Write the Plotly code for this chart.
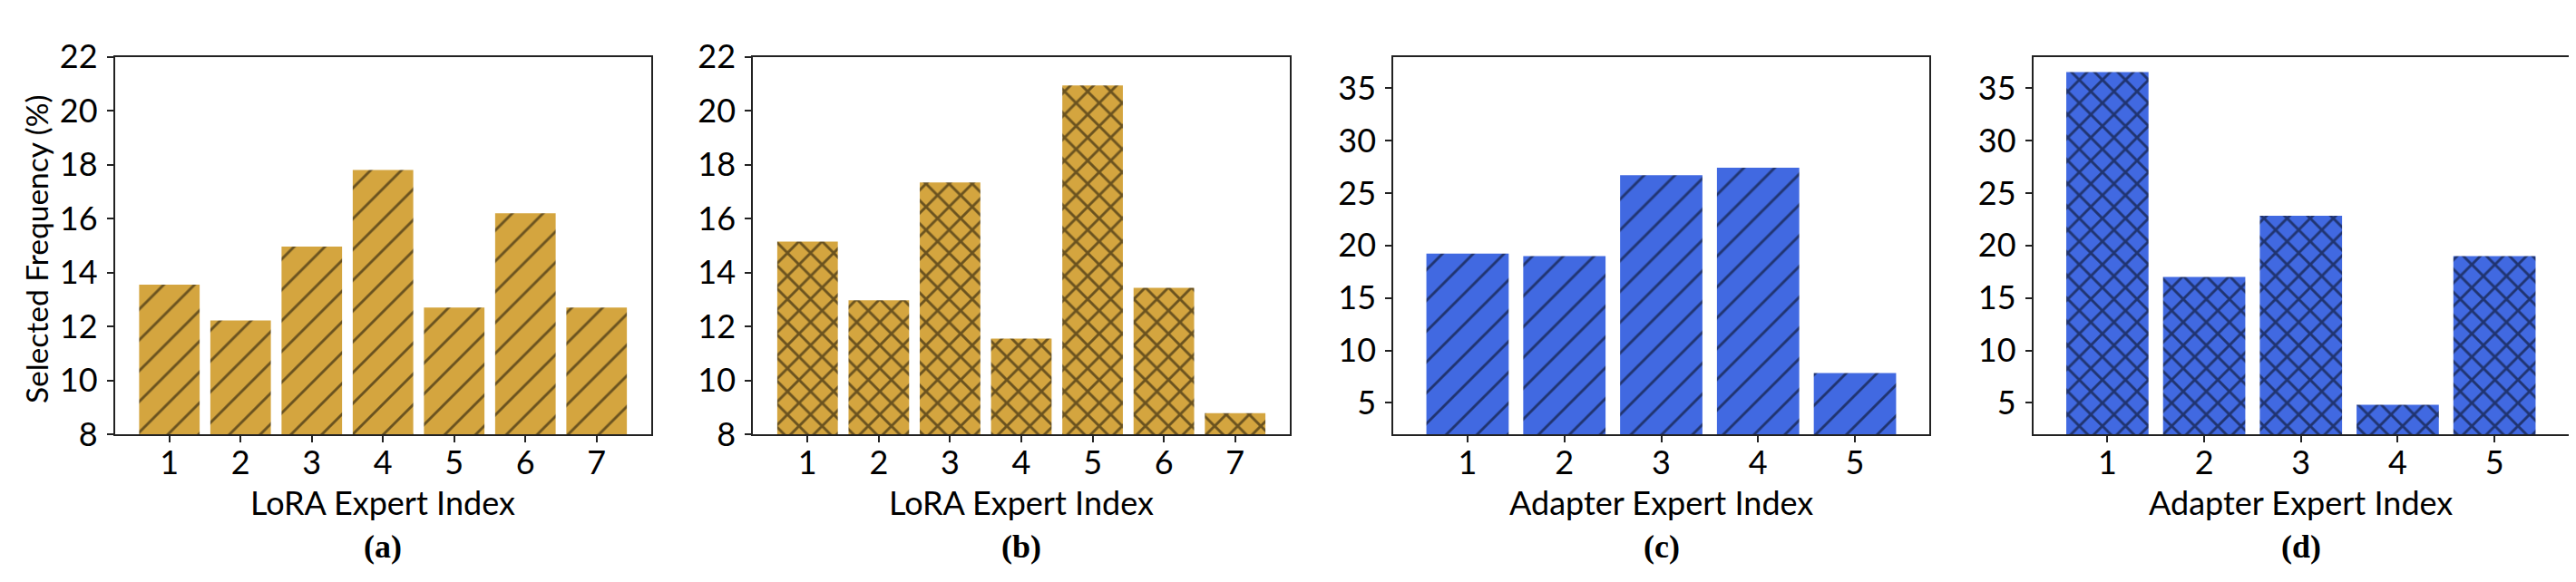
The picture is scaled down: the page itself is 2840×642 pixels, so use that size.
import plotly.graph_objects as go
from plotly.subplots import make_subplots

# expert selection frequencies (%)
lora_experts = [1, 2, 3, 4, 5, 6, 7]
lora_freq_a = [13.55, 12.22, 14.96, 17.80, 12.70, 16.20, 12.70]
lora_freq_b = [15.15, 12.97, 17.34, 11.55, 20.94, 13.43, 8.78]

adapter_experts = [1, 2, 3, 4, 5]
adapter_freq_c = [19.23, 19.00, 26.70, 27.43, 7.85]
adapter_freq_d = [36.55, 17.01, 22.83, 4.81, 19.00]

lora_ticks = [8, 10, 12, 14, 16, 18, 20, 22]
adapter_ticks = [5, 10, 15, 20, 25, 30, 35]

panel_labels = ["(a)", "(b)", "(c)", "(d)"]
x_titles = ["LoRA Expert Index", "LoRA Expert Index", "Adapter Expert Index", "Adapter Expert Index"]
y_title = "Selected Frequency (%)"

GOLD = "#D4A53F"
BLUE = "#4169E1"
FONT = "Lato"
FSIZE = 36
W, H = 2840, 642


def main():
    fig = make_subplots(rows=1, cols=4)

    panels = [
        (lora_experts, lora_freq_a, GOLD, "/", 24, 0.12),
        (lora_experts, lora_freq_b, GOLD, "x", 18, 0.3),
        (adapter_experts, adapter_freq_c, BLUE, "/", 24, 0.12),
        (adapter_experts, adapter_freq_d, BLUE, "x", 18, 0.3),
    ]

    for i, (xs, ys, color, shape, size, sol) in enumerate(panels):
        fig.add_trace(
            go.Bar(
                x=xs,
                y=ys,
                width=0.85,
                marker=dict(
                    color=color,
                    line=dict(width=0),
                    pattern=dict(shape=shape, fgcolor="black", size=size, solidity=sol, fillmode="overlay"),
                ),
                showlegend=False,
            ),
            row=1,
            col=i + 1,
        )

    # plot areas in pixels (left, right), shared top/bottom
    x_px = [(118.5, 710), (822, 1414), (1528, 2119), (2233.5, 2824)]
    top, bottom = 34, 481
    y_dom = [1 - bottom / H, 1 - top / H]

    axis_style = dict(
        showline=True,
        mirror=True,
        linecolor="#222222",
        linewidth=1.5,
        ticks="outside",
        ticklen=7,
        tickwidth=1.5,
        tickcolor="#222222",
        showgrid=False,
        zeroline=False,
        tickfont=dict(family=FONT, size=FSIZE, color="black"),
    )

    for i, (l, r) in enumerate(x_px):
        n = len(panels[i][0])
        fig.update_xaxes(
            domain=[l / W, r / W],
            range=[0.2325, n + 0.7675],
            tickvals=panels[i][0],
            ticklabelstandoff=-8,
            row=1,
            col=i + 1,
            **axis_style,
        )
        if i < 2:
            fig.update_yaxes(domain=y_dom, range=[8, 22], tickvals=lora_ticks, ticklabelstandoff=3, row=1, col=i + 1, **axis_style)
        else:
            fig.update_yaxes(domain=y_dom, range=[2, 38], tickvals=adapter_ticks, ticklabelstandoff=3, row=1, col=i + 1, **axis_style)

        cx = (l + r) / 2 / W
        fig.add_annotation(
            x=cx, y=1 - 561 / H, xref="paper", yref="paper", text=x_titles[i], showarrow=False,
            font=dict(family=FONT, size=FSIZE, color="black"), xanchor="center", yanchor="middle",
        )
        fig.add_annotation(
            x=cx, y=1 - 614 / H, xref="paper", yref="paper", text="<b>" + panel_labels[i] + "</b>", showarrow=False,
            font=dict(family="Liberation Serif", size=36, color="black"), xanchor="center", yanchor="middle",
        )

    fig.add_annotation(
        x=32 / W, y=1 - 262 / H, xref="paper", yref="paper", text=y_title, showarrow=False, textangle=-90,
        font=dict(family=FONT, size=33.5, color="black"), xanchor="center", yanchor="middle",
    )

    fig.update_layout(
        width=W,
        height=H,
        margin=dict(l=0, r=0, t=0, b=0),
        paper_bgcolor="white",
        plot_bgcolor="white",
        bargap=0.15,
    )

    fig.write_html("out.html")


if __name__ == "__main__":
    main()
